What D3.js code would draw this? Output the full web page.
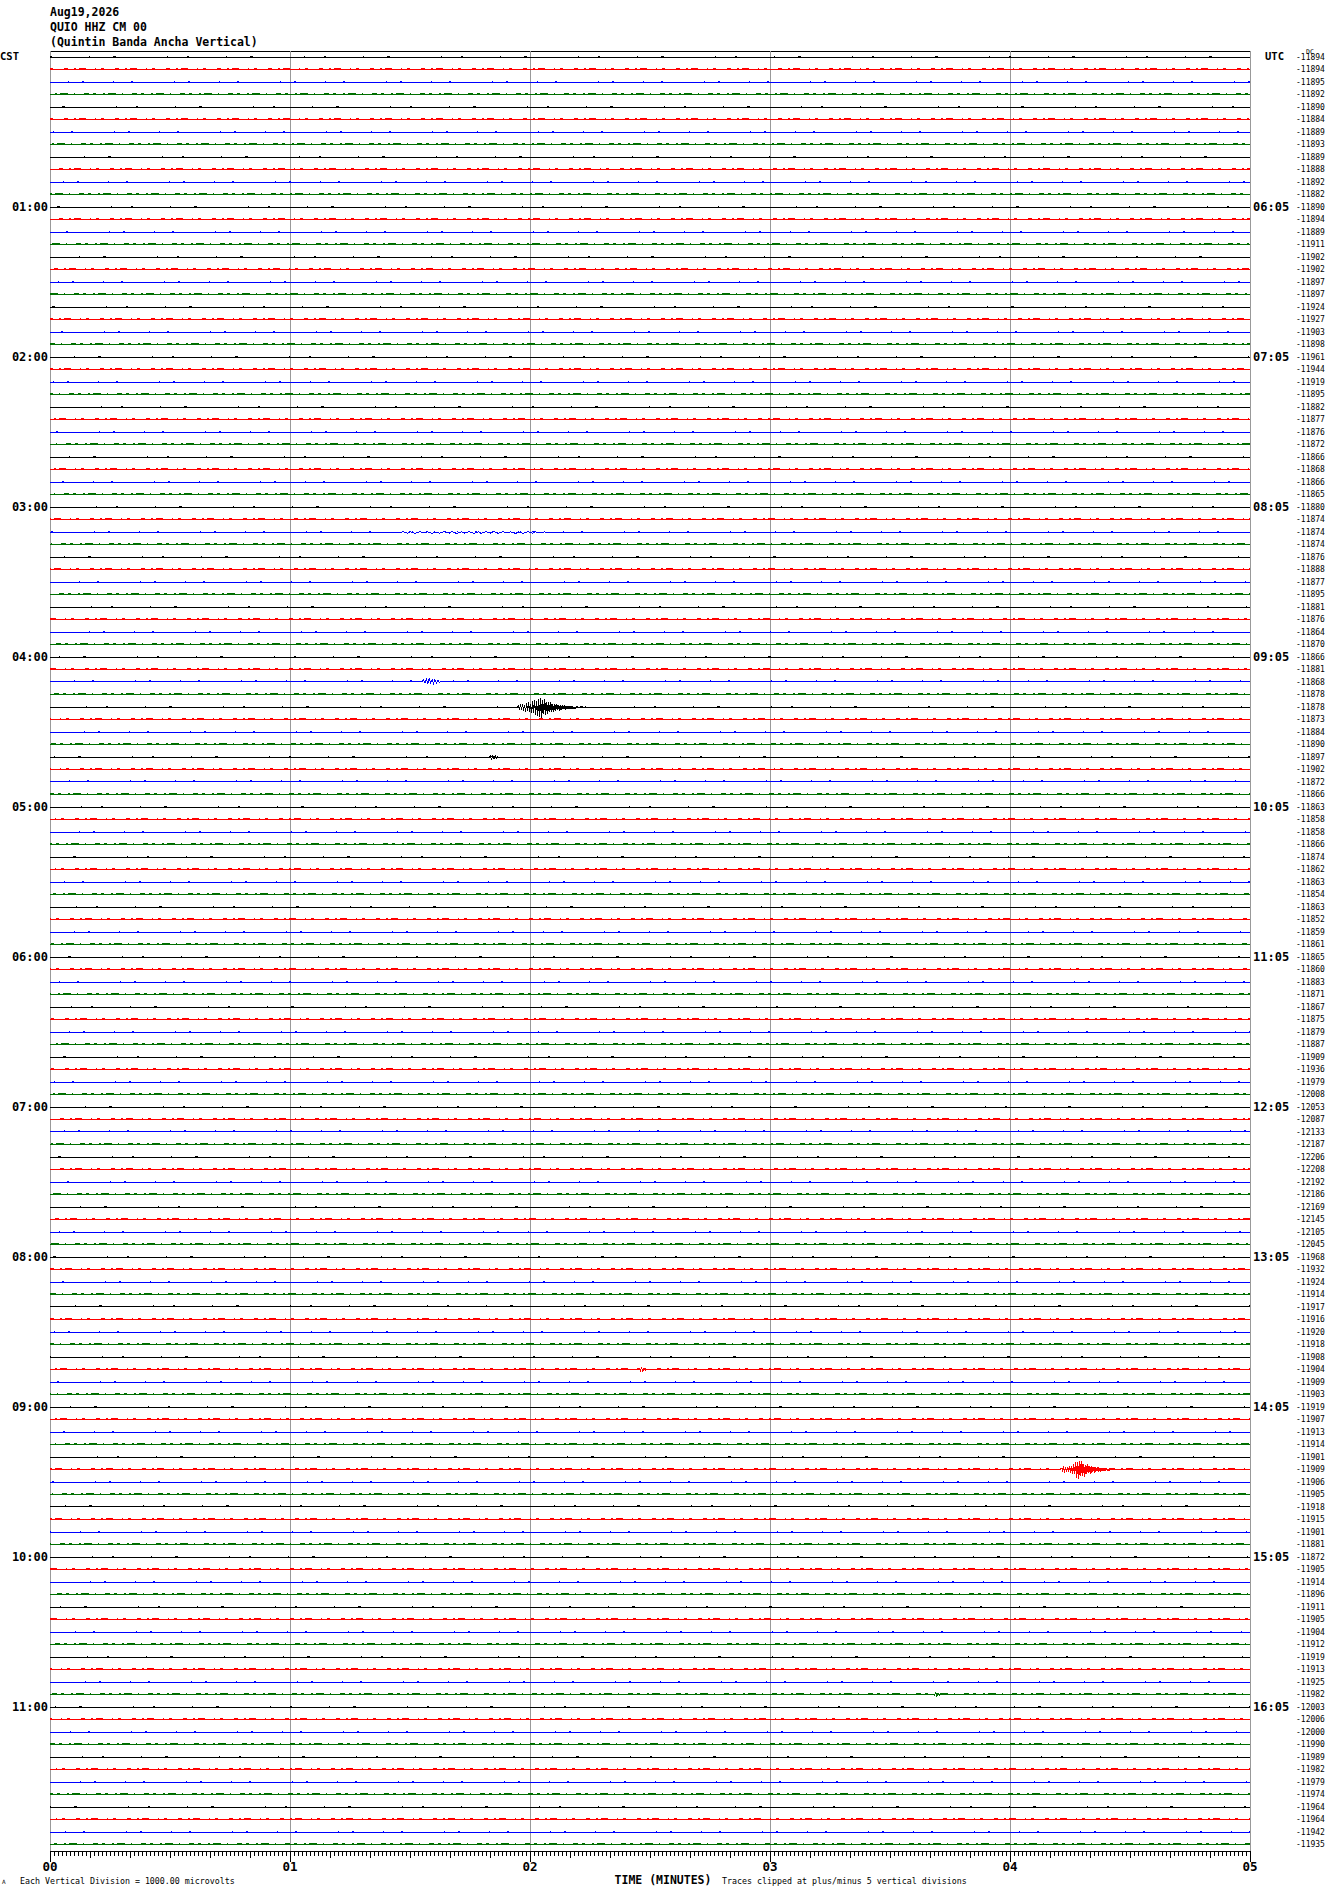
<!DOCTYPE html>
<html><head><meta charset="utf-8">
<script src="https://cdn.jsdelivr.net/npm/d3@7"></script>
<style>body{margin:0;background:#fff}svg{display:block}</style>
</head><body><svg id="c" width="1330" height="1894"></svg>
<script>
const titleLines = ["Aug19,2026", "QUIO HHZ CM 00", "(Quintin Banda Ancha Vertical)"];
const traceLabels = [
-11894,-11894,-11895,-11892,-11890,-11884,-11889,-11893,-11889,-11888,-11892,-11882,
-11890,-11894,-11889,-11911,-11902,-11902,-11897,-11897,-11924,-11927,-11903,-11898,
-11961,-11944,-11919,-11895,-11882,-11877,-11876,-11872,-11866,-11868,-11866,-11865,
-11880,-11874,-11874,-11874,-11876,-11888,-11877,-11895,-11881,-11876,-11864,-11870,
-11866,-11881,-11868,-11878,-11878,-11873,-11884,-11890,-11897,-11902,-11872,-11866,
-11863,-11858,-11858,-11866,-11874,-11862,-11863,-11854,-11863,-11852,-11859,-11861,
-11865,-11860,-11883,-11871,-11867,-11875,-11879,-11887,-11909,-11936,-11979,-12008,
-12053,-12087,-12133,-12187,-12206,-12208,-12192,-12186,-12169,-12145,-12105,-12045,
-11968,-11932,-11924,-11914,-11917,-11916,-11920,-11918,-11908,-11904,-11909,-11903,
-11919,-11907,-11913,-11914,-11901,-11909,-11906,-11905,-11918,-11915,-11901,-11881,
-11872,-11905,-11914,-11896,-11911,-11905,-11904,-11912,-11919,-11913,-11925,-11982,
-12003,-12006,-12000,-11990,-11989,-11982,-11979,-11974,-11964,-11964,-11942,-11935];
const leftHours = ["01:00","02:00","03:00","04:00","05:00","06:00","07:00","08:00","09:00","10:00","11:00"];
const rightHours = ["06:05","07:05","08:05","09:05","10:05","11:05","12:05","13:05","14:05","15:05","16:05"];
const minuteLabels = ["00","01","02","03","04","05"];
const traceColors = ["#000000", "#ff0000", "#0000ff", "#006f00"];

// Waveform excursions (row index, start minute, sample step in minutes, microvolts)
const eventRow52 = [0,120,-160,240,-200,300,-260,200,-320,380,-300,420,-380,300,-460,520,-420,560,-600,480,-700,640,-780,720,-820,600,-520,680,-600,460,-540,420,-380,440,-320,300,-360,280,-240,260,-220,200,-240,180,-160,190,-140,160,-150,120,-130,100,-90,130,-80,70,-100,60,-70,90,-50,40,-60,50,-40,30,-50,60,-30,20,-30,20,0];
const eventRow113 = [0,100,-120,160,-140,120,-180,200,-160,240,-300,280,-360,420,-380,560,-680,600,-760,700,-520,640,-480,420,-560,380,-340,400,-300,260,-320,240,-200,220,-260,180,-150,200,-140,120,-160,110,-90,130,-80,100,-70,60,-90,80,-50,40,-60,50,-40,30,-20,40,-30,20,0];
const burstRow38 = [0,60,0,-50,70,0,-60,0,80,-40,0,60,0,-70,50,0,-60,0,70,0,-50,60,0,-80,0,60,-50,0,70,0,-60,0,50,-70,0,60,0,-50,80,0,-60,0,70,-40,0,60,0,-70,0,50,-60,0,70,0,-50,60,0,-40,0,50,0,-40,0];
const burstRow50 = [0,120,-100,180,-150,200,-120,160,-180,140,-100,90,-60,0];
const burstRow56 = [0,100,-120,150,-90,120,-80,60,0];
const burstRow105 = [0,110,-90,140,-120,80,-60,0];
const burstRow131 = [0,-90,140,-120,100,-60,0];
const events = [
  {row: 52, start: 1.948, step: 0.0042, values: eventRow52},
  {row: 113, start: 4.211, step: 0.0042, values: eventRow113},
  {row: 38, start: 1.46, step: 0.0102, values: burstRow38},
  {row: 50, start: 1.55, step: 0.006, values: burstRow50},
  {row: 56, start: 1.83, step: 0.005, values: burstRow56},
  {row: 105, start: 2.45, step: 0.005, values: burstRow105},
  {row: 131, start: 3.68, step: 0.005, values: burstRow131}
];

(function draw() {
const svg = d3.select("#c");
const plotL = 50, plotR = 1250, plotT = 51, axisY = 1851;
const x = d3.scaleLinear().domain([0, 5]).range([plotL, plotR]);
const rowY = d3.scaleLinear().domain([0, traceLabels.length - 1]).range([56.5, 1844]);
const amp = d3.scaleLinear().domain([-1000, 1000]).range([12.5, -12.5]);
const mono = "'DejaVu Sans Mono', 'Liberation Mono', monospace";

svg.selectAll("text.title").data(titleLines).join("text").attr("class", "title")
  .attr("x", plotL).attr("y", (d, i) => 12 + i * 15)
  .attr("dominant-baseline", "middle")
  .attr("font-family", mono).attr("font-weight", "bold").attr("font-size", 11.5)
  .text(d => d);

svg.append("line").attr("x1", plotL).attr("x2", plotR).attr("y1", plotT + 0.5).attr("y2", plotT + 0.5)
  .attr("stroke", "#000").attr("stroke-width", 1);
svg.selectAll("line.grid").data(d3.range(0, 6)).join("line").attr("class", "grid")
  .attr("x1", d => Math.round(x(d)) + 0.5).attr("x2", d => Math.round(x(d)) + 0.5)
  .attr("y1", plotT).attr("y2", axisY)
  .attr("stroke", "#999").attr("stroke-width", 1);

const line = d3.line().x(d => x(d[0])).y(d => d[1]);
const dashes = ["2 37 1 23 3 51 1 19", "4 6 2 3 7 9 1 5 3 11", "2 29 1 17 2 41 1 13", "5 4 3 7 2 3 8 6 1 9"];
traceLabels.forEach((lab, r) => {
  const c = traceColors[r % 4];
  const y0 = Math.round(rowY(r)) + 0.5;
  let pts = [[0, y0]];
  events.filter(e => e.row === r).forEach(e => {
    e.values.forEach((v, i) => pts.push([e.start + i * e.step, y0 + amp(v)]));
  });
  pts.push([5, y0]);
  pts.sort((a, b) => a[0] - b[0]);
  svg.append("path").attr("d", line(pts)).attr("fill", "none")
    .attr("stroke", c).attr("stroke-width", 1).attr("shape-rendering", "crispEdges");
  svg.append("line").attr("x1", plotL).attr("x2", plotR).attr("y1", y0 - 1).attr("y2", y0 - 1)
    .attr("stroke", c).attr("stroke-width", 1).attr("shape-rendering", "crispEdges")
    .attr("stroke-dasharray", dashes[r % 4]).attr("stroke-dashoffset", (r * 37) % 97);
});

svg.selectAll("text.val").data(traceLabels).join("text").attr("class", "val")
  .attr("x", 1296).attr("y", (d, i) => rowY(i) + 0.5)
  .attr("dominant-baseline", "middle")
  .attr("font-family", mono).attr("font-size", 8)
  .text(d => d);
svg.append("text").attr("x", 1306).attr("y", 52).attr("dominant-baseline", "middle")
  .attr("font-family", mono).attr("font-size", 6.5).text("DC");

svg.selectAll("text.lh").data(leftHours).join("text").attr("class", "lh")
  .attr("x", 48).attr("y", (d, i) => rowY((i + 1) * 12) + 0.5)
  .attr("text-anchor", "end").attr("dominant-baseline", "middle")
  .attr("font-family", mono).attr("font-weight", "bold").attr("font-size", 12)
  .text(d => d);
svg.selectAll("text.rh").data(rightHours).join("text").attr("class", "rh")
  .attr("x", 1253).attr("y", (d, i) => rowY((i + 1) * 12) + 0.5)
  .attr("dominant-baseline", "middle")
  .attr("font-family", mono).attr("font-weight", "bold").attr("font-size", 12)
  .text(d => d);
svg.append("text").attr("x", 0).attr("y", 57).attr("dominant-baseline", "middle")
  .attr("font-family", mono).attr("font-weight", "bold").attr("font-size", 10.5).text("CST");
svg.append("text").attr("x", 1265).attr("y", 57).attr("dominant-baseline", "middle")
  .attr("font-family", mono).attr("font-weight", "bold").attr("font-size", 10.5).text("UTC");

const axisG = svg.append("g").attr("transform", `translate(0,${axisY})`);
axisG.append("line").attr("x1", plotL).attr("x2", plotR).attr("y1", 0.5).attr("y2", 0.5).attr("stroke", "#000");
const secs = d3.range(0, 301);
axisG.selectAll("line.t").data(secs).join("line").attr("class", "t")
  .attr("x1", d => Math.round(x(d / 60)) + 0.5).attr("x2", d => Math.round(x(d / 60)) + 0.5)
  .attr("y1", 0).attr("y2", d => d % 60 === 0 ? 11 : (d % 10 === 0 ? 7 : 5))
  .attr("stroke", "#000").attr("stroke-width", 1).attr("shape-rendering", "crispEdges");
axisG.selectAll("text.m").data(minuteLabels).join("text").attr("class", "m")
  .attr("x", (d, i) => x(i)).attr("y", 16)
  .attr("text-anchor", "middle").attr("dominant-baseline", "middle")
  .attr("font-family", mono).attr("font-weight", "bold").attr("font-size", 12.5)
  .text(d => d);

svg.append("text").attr("x", 663).attr("y", 1880).attr("text-anchor", "middle").attr("dominant-baseline", "middle")
  .attr("font-family", mono).attr("font-weight", "bold").attr("font-size", 11.5).text("TIME (MINUTES)");
svg.append("text").attr("x", 722).attr("y", 1881).attr("dominant-baseline", "middle")
  .attr("font-family", mono).attr("font-size", 8.3).text("Traces clipped at plus/minus 5 vertical divisions");
svg.append("text").attr("x", 20).attr("y", 1881).attr("dominant-baseline", "middle")
  .attr("font-family", mono).attr("font-size", 8.3).text("Each Vertical Division = 1000.00 microvolts");
svg.append("text").attr("x", 2).attr("y", 1882).attr("dominant-baseline", "middle")
  .attr("font-family", mono).attr("font-size", 6).text("A");
})();
</script></body></html>
